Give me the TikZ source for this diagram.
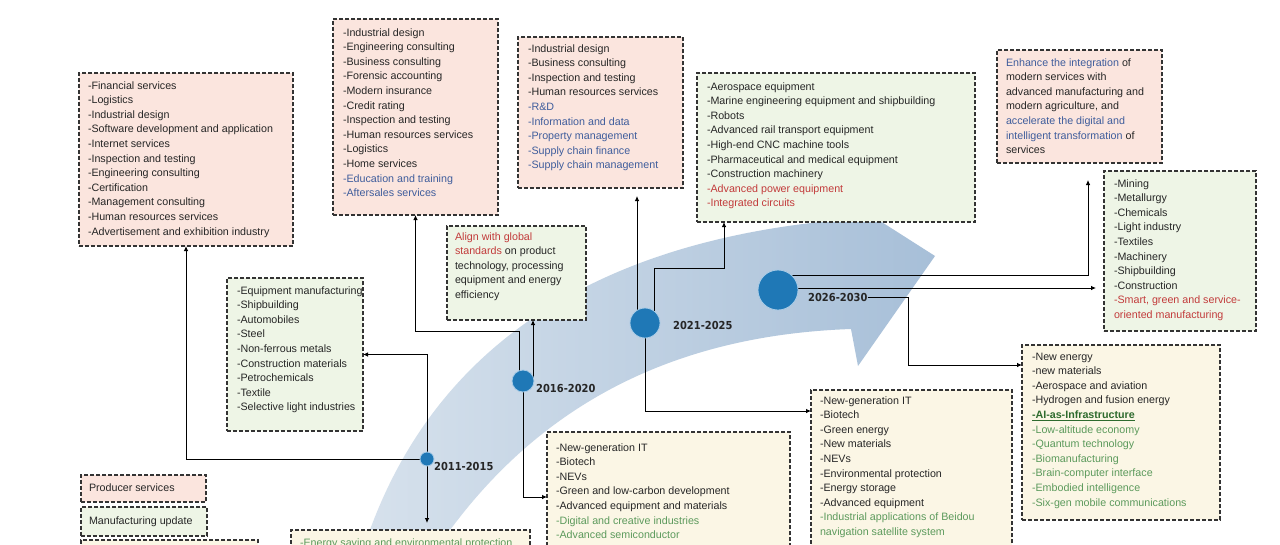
\documentclass[tikz,border=0pt]{standalone}
\usepackage{fontspec}
\setmainfont{Liberation Sans}
\newfontfamily\yearfont{DejaVu Sans Condensed Bold}
\usetikzlibrary{arrows.meta}
\pgfdeclarelayer{front}
\pgfsetlayers{main,front}
\definecolor{pinkc}{HTML}{FBE5DE}
\definecolor{greenc}{HTML}{EEF5E6}
\definecolor{beigec}{HTML}{FBF6E5}
\definecolor{txtc}{HTML}{262626}
\definecolor{bluec}{HTML}{3F5D9C}
\definecolor{redc}{HTML}{C23B3B}
\definecolor{greenct}{HTML}{5C9A5C}
\definecolor{dgreen}{HTML}{2E6B2E}
\definecolor{dotc}{HTML}{1F78B6}
\definecolor{dotring}{HTML}{A8CBE6}
\definecolor{arrowA}{HTML}{D6E1EC}
\definecolor{arrowB}{HTML}{A7BFD8}
\newcommand{\ctblue}[1]{\textcolor{bluec}{#1}}
\newcommand{\ctred}[1]{\textcolor{redc}{#1}}
\newcommand{\ctgreen}[1]{\textcolor{greenct}{#1}}
\newcommand{\fstrut}{\rule{0pt}{11pt}}
\tikzset{
  frame/.style={draw=black!80, dash pattern=on 4pt off 2pt, line width=1.2pt, inner sep=0pt, outer sep=0pt, anchor=north west},
  pinkbox/.style={frame, fill=pinkc},
  greenbox/.style={frame, fill=greenc},
  beigebox/.style={frame, fill=beigec},
  txt/.style={anchor=north west, inner sep=0pt, outer sep=0pt, align=left, font=\fontsize{10.7}{14.6}\selectfont, text=txtc},
  conn/.style={draw=black, line width=0.8pt},
  arr/.style={conn, -{Latex[length=5pt,width=4.5pt]}},
  dot/.style={circle, fill=dotc, draw=dotring, line width=0.8pt, inner sep=0pt},
  yr/.style={anchor=west, inner sep=0pt, font=\yearfont\fontsize{11}{13}\selectfont, text=black!85},
}
\begin{document}
\begin{tikzpicture}[x=1pt,y=-1pt]
\useasboundingbox (0,0) rectangle (1280,544);
\fill[white] (0,0) rectangle (1280,544);

% big curved arrow
\shade[left color=arrowA, right color=arrowB]
  (365,570) -- (365,544) .. controls (430,350) and (590,245) .. (829,221)
  -- (822,184) -- (935,256) -- (858,366) -- (851,329)
  .. controls (680,335) and (540,400) .. (440,544) -- (432,570) -- cycle;

% boxes
\node[pinkbox, minimum width=214pt, minimum height=173pt] (fin) at (79,73) {};
\node[pinkbox, minimum width=165pt, minimum height=196pt] (ps2) at (333,19) {};
\node[pinkbox, minimum width=165pt, minimum height=151pt] (ps3) at (518,37) {};
\node[greenbox, minimum width=278pt, minimum height=149pt] (aero) at (697,73) {};
\node[pinkbox, minimum width=165pt, minimum height=113pt] (enh) at (997,50) {};
\node[greenbox, minimum width=152pt, minimum height=160pt] (mining) at (1104,171) {};
\node[greenbox, minimum width=136pt, minimum height=153pt] (equip) at (227,278) {};
\node[greenbox, minimum width=139pt, minimum height=94pt] (align) at (447,226) {};
\node[beigebox, minimum width=198pt, minimum height=175pt] (ni4) at (1022,345) {};
\node[beigebox, minimum width=201pt, minimum height=180pt] (ni3) at (811,390) {};
\node[beigebox, minimum width=243pt, minimum height=130pt] (ni2) at (547,432) {};
\node[beigebox, minimum width=239pt, minimum height=40pt] (ni1) at (291,530) {};
\node[pinkbox, minimum width=125pt, minimum height=27pt] (leg1) at (81,475) {};
\node[greenbox, minimum width=126pt, minimum height=29pt] (leg2) at (81,507) {};
\node[beigebox, minimum width=177pt, minimum height=30pt] (leg3) at (81,540) {};

% texts
\node[txt] (fint) at (88,78) {\fstrut-Financial services\\-Logistics\\-Industrial design\\-Software development and application\\-Internet services\\-Inspection and testing\\-Engineering consulting\\-Certification\\-Management consulting\\-Human resources services\\-Advertisement and exhibition industry};
\node[txt] (ps2t) at (343,25) {\fstrut-Industrial design\\-Engineering consulting\\-Business consulting\\-Forensic accounting\\-Modern insurance\\-Credit rating\\-Inspection and testing\\-Human resources services\\-Logistics\\-Home services\\\ctblue{-Education and training}\\\ctblue{-Aftersales services}};
\node[txt] (ps3t) at (528,41) {\fstrut-Industrial design\\-Business consulting\\-Inspection and testing\\-Human resources services\\\ctblue{-R\&D}\\\ctblue{-Information and data}\\\ctblue{-Property management}\\\ctblue{-Supply chain finance}\\\ctblue{-Supply chain management}};
\node[txt] (aerot) at (707,79) {\fstrut-Aerospace equipment\\-Marine engineering equipment and shipbuilding\\-Robots\\-Advanced rail transport equipment\\-High-end CNC machine tools\\-Pharmaceutical and medical equipment\\-Construction machinery\\\ctred{-Advanced power equipment}\\\ctred{-Integrated circuits}};
\node[txt] (enht) at (1006,55) {\fstrut\ctblue{Enhance the integration} of\\modern services with\\advanced manufacturing and\\modern agriculture, and\\\ctblue{accelerate the digital and}\\\ctblue{intelligent transformation} of\\services};
\node[txt] (miningt) at (1114,176) {\fstrut-Mining\\-Metallurgy\\-Chemicals\\-Light industry\\-Textiles\\-Machinery\\-Shipbuilding\\-Construction\\\ctred{-Smart, green and service-}\\\ctred{oriented manufacturing}};
\node[txt] (equipt) at (237,283) {\fstrut-Equipment manufacturing\\-Shipbuilding\\-Automobiles\\-Steel\\-Non-ferrous metals\\-Construction materials\\-Petrochemicals\\-Textile\\-Selective light industries};
\node[txt] (alignt) at (455,229) {\fstrut\ctred{Align with global}\\\ctred{standards} on product\\technology, processing\\equipment and energy\\efficiency};
\node[txt] (ni4t) at (1032,349) {\fstrut-New energy\\-new materials\\-Aerospace and aviation\\-Hydrogen and fusion energy\\\textcolor{dgreen}{\underline{\textbf{-AI-as-Infrastructure}}}\\\ctgreen{-Low-altitude economy}\\\ctgreen{-Quantum technology}\\\ctgreen{-Biomanufacturing}\\\ctgreen{-Brain-computer interface}\\\ctgreen{-Embodied intelligence}\\\ctgreen{-Six-gen mobile communications}};
\node[txt] (ni3t) at (820,393) {\fstrut-New-generation IT\\-Biotech\\-Green energy\\-New materials\\-NEVs\\-Environmental protection\\-Energy storage\\-Advanced equipment\\\ctgreen{-Industrial applications of Beidou}\\\ctgreen{navigation satellite system}};
\node[txt] (ni2t) at (556,440) {\fstrut-New-generation IT\\-Biotech\\-NEVs\\-Green and low-carbon development\\-Advanced equipment and materials\\\ctgreen{-Digital and creative industries}\\\ctgreen{-Advanced semiconductor}};
\node[txt] (ni1t) at (300,535) {\fstrut\ctgreen{-Energy saving and environmental protection}};
\node[txt] (leg1t) at (89,480) {\fstrut Producer services};
\node[txt] (leg2t) at (89,513) {\fstrut Manufacturing update};

% dots and year labels (front layer, over the connectors)
\begin{pgfonlayer}{front}
\node[dot, minimum size=14pt] (d1) at (427,459) {};
\node[dot, minimum size=22pt] (d2) at (523,381) {};
\node[dot, minimum size=30pt] (d3) at (645,323) {};
\node[dot, minimum size=40pt] (d4) at (778,290) {};
\node[yr] (y1) at (434,466) {2011-2015};
\node[yr] (y2) at (536,388) {2016-2020};
\node[yr] (y3) at (673,325) {2021-2025};
\node[yr] (y4) at (808,297) {2026-2030};
\end{pgfonlayer}

% connector bend points
\coordinate (k2) at (519,331);
\coordinate (k3) at (724,268);
\coordinate (k4) at (908,365);

% connectors
\draw[arr] (d1.center) |- (equip.east);
\draw[arr] (d1.center) -| (fin.south);
\draw[arr, shorten >=7pt] (d1.center) -- (d1.center |- ni1.north);

\draw[arr] (k2 |- d2.center) -- (k2) -| (ps2.south);
\draw[arr] ([xshift=10pt]d2.center) -- ([xshift=10pt]d2.center |- align.south);
\draw[arr] (d2.center) |- (ni2.west);

\draw[arr] ([xshift=9pt]d3.center) |- (k3) -- (k3 |- aero.south);
\draw[arr, shorten >=8pt] ([xshift=-8pt]d3.center) -- ([xshift=-8pt]d3.center |- ps3.south);
\draw[arr] (d3.center) |- ([yshift=-21pt]ni3.north west);

\draw[arr, shorten >=17pt] ([yshift=15pt]d4.center) -| ([xshift=8.5pt]enh.south);
\draw[arr, shorten >=8pt] ([yshift=2pt]d4.center) -- ([yshift=2pt]d4.center -| mining.west);
\draw[arr] (y4.east) -| (k4) -- (k4 -| ni4.west);
\end{tikzpicture}
\end{document}
